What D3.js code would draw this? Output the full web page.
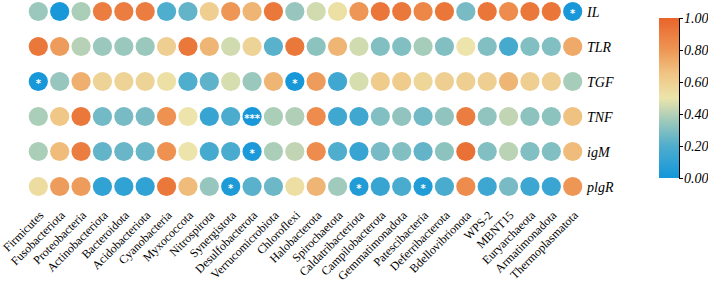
<!DOCTYPE html>
<html>
<head>
<meta charset="utf-8">
<script src="https://cdn.jsdelivr.net/npm/d3@7"></script>
<style>
  body { margin: 0; background: #fff; }
  text { font-family: "Liberation Serif", "Times New Roman", serif; }
</style>
</head>
<body>
<svg id="chart"></svg>
<script>
// Phyla (columns)
const phyla = ["Firmicutes", "Fusobacteriota", "Proteobacteria", "Actinobacteriota", "Bacteroidota",
  "Acidobacteriota", "Cyanobacteria", "Myxococcota", "Nitrospirota", "Synergistota", "Desulfobacterota",
  "Verrucomicrobiota", "Chloroflexi", "Halobacterota", "Spirochaetota", "Caldatribacteriota",
  "Campilobacterota", "Gemmatimonadota", "Patescibacteria", "Deferribacterota", "Bdellovibrionota",
  "WPS-2", "MBNT15", "Euryarchaeota", "Armatimonadota", "Thermoplasmatota"];

// Genes (rows)
const genes = ["IL", "TLR", "TGF", "TNF", "igM", "plgR"];

// values per gene, one per phylum
const IL   = [0.35, 0.02, 0.38, 0.90, 0.90, 0.90, 0.20, 0.24, 0.60, 0.80, 0.70, 0.92, 0.34, 0.45, 0.52, 0.80, 0.93, 0.92, 0.86, 0.93, 0.28, 0.93, 0.84, 0.92, 0.93, 0.02];
const TLR  = [0.92, 0.78, 0.40, 0.35, 0.35, 0.35, 0.60, 0.92, 0.70, 0.45, 0.58, 0.22, 0.92, 0.32, 0.70, 0.45, 0.30, 0.30, 0.37, 0.30, 0.50, 0.30, 0.17, 0.30, 0.30, 0.74];
const TGF  = [0.02, 0.34, 0.72, 0.58, 0.58, 0.58, 0.52, 0.20, 0.23, 0.46, 0.35, 0.70, 0.02, 0.78, 0.15, 0.46, 0.62, 0.62, 0.57, 0.60, 0.60, 0.60, 0.70, 0.60, 0.60, 0.37];
const TNF  = [0.38, 0.64, 0.92, 0.27, 0.28, 0.28, 0.82, 0.50, 0.12, 0.19, 0.02, 0.38, 0.39, 0.84, 0.15, 0.15, 0.30, 0.33, 0.27, 0.33, 0.90, 0.33, 0.42, 0.32, 0.32, 0.66];
const igM  = [0.38, 0.68, 0.90, 0.24, 0.25, 0.25, 0.82, 0.50, 0.17, 0.18, 0.03, 0.38, 0.42, 0.84, 0.20, 0.12, 0.28, 0.30, 0.24, 0.32, 0.95, 0.30, 0.41, 0.30, 0.30, 0.68];
const plgR = [0.54, 0.78, 0.78, 0.10, 0.10, 0.10, 0.92, 0.68, 0.34, 0.04, 0.22, 0.26, 0.53, 0.70, 0.36, 0.05, 0.12, 0.18, 0.05, 0.18, 0.84, 0.14, 0.28, 0.14, 0.13, 0.80];
const values = [IL, TLR, TGF, TNF, igM, plgR];

// significance marks: [gene, phylum, mark]
const stars = [
  ["IL", "Thermoplasmatota", "*"],
  ["TGF", "Firmicutes", "*"],
  ["TGF", "Chloroflexi", "*"],
  ["TNF", "Desulfobacterota", "***"],
  ["igM", "Desulfobacterota", "*"],
  ["plgR", "Synergistota", "*"],
  ["plgR", "Caldatribacteriota", "*"],
  ["plgR", "Patescibacteria", "*"]
];

const legendTicks = [0, 0.2, 0.4, 0.6, 0.8, 1.0];

const W = 708, H = 285;
const svg = d3.select("#chart").attr("width", W).attr("height", H);

const x = d3.scalePoint().domain(phyla).range([38.3, 572.7]);
const y = d3.scalePoint().domain(genes).range([11.5, 186.5]);

const color = d3.scaleLinear()
  .domain([0, 0.2, 0.35, 0.5, 0.65, 0.8, 1])
  .range(["#1296da", "#4fadcd", "#9bc8bc", "#ece4aa", "#f0c585", "#ee9655", "#e9642a"])
  .clamp(true);

const cells = [];
genes.forEach((g, i) => phyla.forEach((p, j) => cells.push({ gene: g, phylum: p, v: values[i][j] })));

svg.append("g").selectAll("circle")
  .data(cells)
  .enter().append("circle")
  .attr("cx", d => x(d.phylum))
  .attr("cy", d => y(d.gene))
  .attr("r", 9.6)
  .attr("fill", d => color(d.v));

svg.append("g").selectAll("text")
  .data(stars)
  .enter().append("text")
  .attr("x", d => x(d[1]))
  .attr("y", d => y(d[0]) + 5.5)
  .attr("text-anchor", "middle")
  .attr("fill", "#fff")
  .style("font-family", "DejaVu Sans, sans-serif")
  .style("font-size", "10px")
  .style("font-weight", "bold")
  .text(d => d[2]);

// row labels
svg.append("g").selectAll("text")
  .data(genes)
  .enter().append("text")
  .attr("x", 587)
  .attr("y", d => y(d) + 5)
  .style("font-size", "14px")
  .style("font-style", "italic")
  .text(d => d);

// column labels
svg.append("g").selectAll("text")
  .data(phyla)
  .enter().append("text")
  .attr("transform", d => `translate(${x(d) + 6},${216}) rotate(-45)`)
  .attr("text-anchor", "end")
  .style("font-size", "12px")
  .text(d => d);

// colour bar
const defs = svg.append("defs");
const grad = defs.append("linearGradient")
  .attr("id", "cbar").attr("x1", 0).attr("y1", 1).attr("x2", 0).attr("y2", 0);
d3.range(0, 1.0001, 0.05).forEach(t => {
  grad.append("stop").attr("offset", t).attr("stop-color", color(t));
});

const cb = { x: 659, y: 18, w: 20, h: 160 };
svg.append("rect")
  .attr("x", cb.x).attr("y", cb.y).attr("width", cb.w).attr("height", cb.h)
  .attr("fill", "url(#cbar)");

const cy = d3.scaleLinear().domain([0, 1]).range([cb.y + cb.h, cb.y]);
const cAxis = svg.append("g")
  .attr("transform", `translate(${cb.x + cb.w},0)`)
  .call(d3.axisRight(cy).tickValues(legendTicks).tickSize(4).tickFormat(d3.format(".2f")));
cAxis.select(".domain").attr("stroke", "#000");
cAxis.selectAll("text")
  .attr("x", 5)
  .style("font-family", "Liberation Serif, serif")
  .style("font-style", "italic")
  .style("font-size", "14px");
</script>
</body>
</html>
